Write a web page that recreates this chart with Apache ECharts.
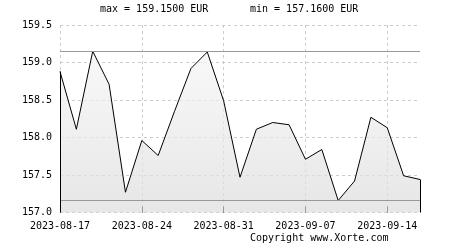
<!DOCTYPE html>
<html>
<head>
<meta charset="utf-8">
<script src="https://cdn.jsdelivr.net/npm/echarts@6/dist/echarts.min.js"></script>
<style>html,body{margin:0;padding:0;background:#fff}#c{width:450px;height:250px}</style>
</head>
<body>
<div id="c"></div>
<script>
const dates = ["2023-08-17","2023-08-18","2023-08-21","2023-08-22","2023-08-23","2023-08-24","2023-08-25","2023-08-28","2023-08-29","2023-08-30","2023-08-31","2023-09-01","2023-09-04","2023-09-05","2023-09-06","2023-09-07","2023-09-08","2023-09-11","2023-09-12","2023-09-13","2023-09-14","2023-09-15","2023-09-18"];
const prices = [158.88,158.11,159.15,158.71,157.27,157.96,157.76,158.35,158.92,159.14,158.49,157.47,158.11,158.20,158.17,157.71,157.84,157.16,157.42,158.27,158.13,157.49,157.44];
const yTicks = [157.0,157.5,158.0,158.5,159.0,159.5];
const maxV = 159.15, minV = 157.16;
const currency = "EUR";

const font = '"DejaVu Sans Mono", monospace';
const chart = echarts.init(document.getElementById('c'), null, {renderer:'canvas'});
const last = prices.length - 1;
chart.setOption({
  animation: false,
  backgroundColor: '#fff',
  grid: {left: 60, right: 30, top: 25, bottom: 37.5, containLabel: false},
  graphic: [
    {type:'text', left: 100, top: 4, style:{text:`max = ${maxV.toFixed(4)} ${currency}`, font:`10px ${font}`, fill:'#000'}},
    {type:'text', left: 250, top: 4, style:{text:`min = ${minV.toFixed(4)} ${currency}`, font:`10px ${font}`, fill:'#000'}},
    {type:'text', left: 250, top: 233, style:{text:'Copyright www.Xorte.com', font:`10px ${font}`, fill:'#000'}}
  ],
  xAxis: {
    type: 'category', data: dates, boundaryGap: false,
    axisLine: {show: false},
    axisTick: {show: true, inside: true, length: 6, interval: 4, lineStyle: {color: '#000'}},
    axisLabel: {interval: 4, color: '#000', fontFamily: font, fontSize: 10, margin: 9},
    splitLine: {show: true, interval: 4, lineStyle: {color: '#ccc', type: [3,3], width: 1}}
  },
  yAxis: {
    type: 'value', min: yTicks[0], max: yTicks[yTicks.length-1], interval: 0.5,
    axisLine: {show: false}, axisTick: {show: false},
    axisLabel: {color: '#000', fontFamily: font, fontSize: 10, margin: 8, formatter: v => v.toFixed(1)},
    splitLine: {show: true, lineStyle: {color: '#ccc', type: [3,3], width: 1}}
  },
  series: [{
    type: 'line', data: prices, symbol: 'none', smooth: false,
    lineStyle: {color: '#000', width: 1},
    areaStyle: {origin: 'start', color: new echarts.graphic.LinearGradient(0,0,0,1,[{offset:0,color:'#f6f6f6'},{offset:1,color:'#dcdcdc'}])},
    markLine: {
      silent: true, symbol: 'none', label: {show: false},
      data: [
        {yAxis: maxV, lineStyle: {color: '#999', type: 'solid', width: 1}},
        {yAxis: minV, lineStyle: {color: '#999', type: 'solid', width: 1}},
        [{coord: [0, yTicks[0]], lineStyle: {color: '#000', type: 'solid', width: 1}}, {coord: [0, prices[0]]}],
        [{coord: [last, yTicks[0]], lineStyle: {color: '#000', type: 'solid', width: 1}}, {coord: [last, prices[last]]}]
      ]
    }
  }]
});
</script>
</body>
</html>
